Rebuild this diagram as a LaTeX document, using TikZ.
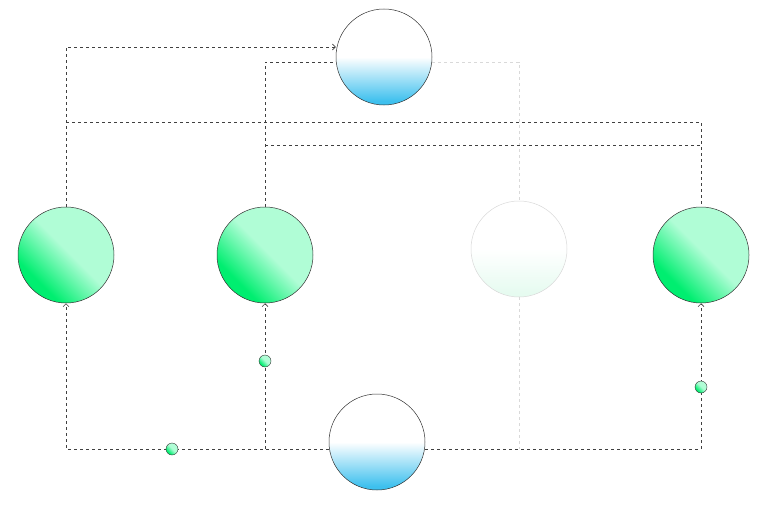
\documentclass[tikz,border=0pt]{standalone}
\usetikzlibrary{arrows.meta}
\definecolor{gdark}{HTML}{00EE70}
\definecolor{glight}{HTML}{B0FDD6}
\definecolor{bblue}{HTML}{3EC0EE}
\definecolor{fgreen}{HTML}{E6FBF0}
\pgfdeclarehorizontalshading{gsh}{100bp}{color(0bp)=(gdark); color(30bp)=(gdark); color(52bp)=(glight); color(100bp)=(glight)}
\pgfdeclareverticalshading{bsh}{100bp}{color(0bp)=(bblue); color(27bp)=(bblue); color(50bp)=(white); color(100bp)=(white)}
\pgfdeclareverticalshading{fsh}{100bp}{color(0bp)=(fgreen); color(27bp)=(fgreen); color(50bp)=(white); color(100bp)=(white)}
\begin{document}
\begin{tikzpicture}[x=1pt,y=-1pt,
  gball/.style={circle,draw=black!80,line width=0.5pt,minimum size=96pt,inner sep=0pt,
    shading=gsh,shading angle=45},
  fball/.style={circle,draw=black!15,line width=0.5pt,minimum size=96pt,inner sep=0pt,
    shading=fsh},
  bball/.style={circle,draw=black!80,line width=0.5pt,minimum size=96pt,inner sep=0pt,
    shading=bsh},
  dot/.style={circle,draw=black!80,line width=0.4pt,minimum size=12pt,inner sep=0pt,
    shading=gsh,shading angle=45},
  link/.style={draw=black!75,dashed,line width=0.6pt},
  flink/.style={draw=black!15,dashed,line width=0.6pt},
  arr/.style={-{Straight Barb[length=3pt,width=6pt]}}]
\useasboundingbox (0,0) rectangle (767,511);
\node[bball] (top) at (384,57) {};
\node[bball] (bot) at (377,442) {};
\node[gball] (g1) at (66,255) {};
\node[gball] (g2) at (265,255) {};
\node[fball] (g3) at (519,249) {};
\node[gball] (g4) at (701,255) {};
\coordinate (a1) at (66,122);
\coordinate (a2) at (265,145);
% top connections
\draw[link,arr] (g1.north) |- (top.west |- 0,47);
\draw[link] (g2.north) |- (top.west |- 0,62);
\draw[flink] (top.east |- 0,62) -| (g3.north);
\draw[link] (a1) -| (g4.north);
\draw[link] (a2) -| (g4.north);
% bottom connections
\draw[link,arr] (bot.west |- 0,449) -| (g1.south);
\draw[link,arr] (265,449) -- (g2.south);
\draw[link,arr] (bot.east |- 0,449) -| (g4.south);
\draw[flink] (g3.south) -- (519,449);
\node[dot] (d1) at (172,449) {};
\node[dot] (d2) at (265,361) {};
\node[dot] (d3) at (701,387) {};
\end{tikzpicture}
\end{document}
